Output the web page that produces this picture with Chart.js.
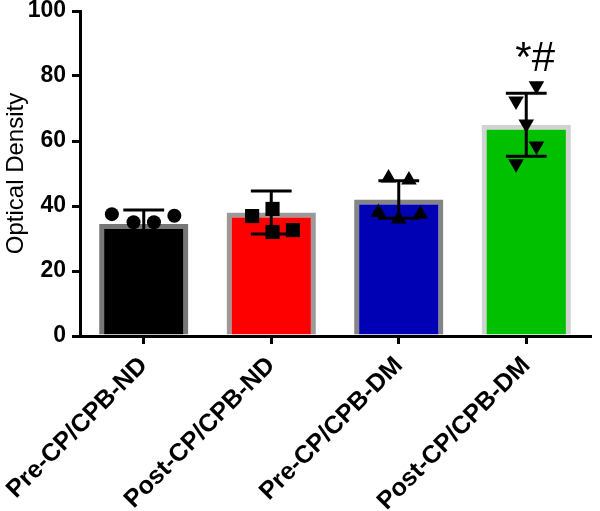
<!DOCTYPE html>
<html>
<head>
<meta charset="utf-8">
<script src="https://cdn.jsdelivr.net/npm/chart.js@4"></script>
<style>
  html, body { margin: 0; padding: 0; background: #fff; }
  #wrap { width: 600px; height: 511px; }
</style>
</head>
<body>
<div id="wrap"><canvas id="odChart"></canvas></div>
<script>
// groups on the x axis
var categories = ['Pre-CP/CPB-ND', 'Post-CP/CPB-ND', 'Pre-CP/CPB-DM', 'Post-CP/CPB-DM'];
// bar heights (mean) and error bars (SD)
var means = [34.5, 38, 42, 65];
var sds = [4.3, 6.6, 5.8, 9.7];
var yTicks = [0, 20, 40, 60, 80, 100];

// individual samples; jitter is the horizontal spread inside a bar, in category units
var preNdValues = [37.5, 35, 35, 37, 29.5];
var preNdJitter = [-0.25, -0.08, 0.08, 0.24, 0];
var postNdValues = [36.9, 39.1, 32, 32.6];
var postNdJitter = [-0.15, 0.01, 0.01, 0.17];
var preDmValues = [48.6, 48, 38, 36, 37.5];
var preDmJitter = [-0.08, 0.08, -0.16, 0, 0.17];
var postDmValues = [77, 72.3, 65.2, 58.5, 53];
var postDmJitter = [0.08, -0.08, 0, 0.08, -0.08];

var barColors = ['#000000', '#ff0000', '#0000b4', '#00c000'];
var barBorders = ['#777777', '#9a9a9a', '#858585', '#d2d2d2'];

var FONT = "Arial, 'Liberation Sans', sans-serif";

function toPoints(groupIndex, values, jitter) {
  var pts = [];
  for (var i = 0; i < values.length; i++) {
    pts.push({ x: groupIndex + jitter[i], y: values[i] });
  }
  return pts;
}

function scatterSet(points, style, radius, rotation) {
  return {
    type: 'scatter',
    xAxisID: 'xs',
    data: points,
    pointStyle: style,
    pointRadius: radius,
    pointHoverRadius: radius,
    rotation: rotation || 0,
    backgroundColor: '#000',
    borderColor: '#000',
    borderWidth: 0
  };
}

// error bars + significance mark
var errorBarPlugin = {
  id: 'errorBars',
  afterDatasetsDraw: function(chart) {
    var ctx = chart.ctx;
    var xs = chart.scales.xs;
    var y = chart.scales.y;
    ctx.save();
    ctx.strokeStyle = '#000';
    ctx.lineWidth = 3;
    for (var i = 0; i < means.length; i++) {
      var cx = xs.getPixelForValue(i);
      var half = (xs.getPixelForValue(i + 0.16) - cx);
      var top = y.getPixelForValue(means[i] + sds[i]);
      var bot = y.getPixelForValue(means[i] - sds[i]);
      ctx.beginPath();
      ctx.moveTo(cx, top);
      ctx.lineTo(cx, bot);
      ctx.moveTo(cx - half, top);
      ctx.lineTo(cx + half, top);
      ctx.moveTo(cx - half, bot);
      ctx.lineTo(cx + half, bot);
      ctx.stroke();
    }
    ctx.fillStyle = '#000';
    ctx.font = '42px ' + FONT;
    ctx.textAlign = 'center';
    ctx.textBaseline = 'alphabetic';
    ctx.fillText('*#', xs.getPixelForValue(3.07), y.getPixelForValue(81.5));
    ctx.restore();
  }
};

var ctx = document.getElementById('odChart').getContext('2d');
var chart = new Chart(ctx, {
  type: 'bar',
  data: {
    labels: categories,
    datasets: [
      {
        type: 'bar',
        data: means,
        backgroundColor: barColors,
        borderColor: barBorders,
        borderWidth: 5,
        borderSkipped: 'start',
        grouped: false,
        categoryPercentage: 1,
        barPercentage: 0.7,
        order: 2
      },
      scatterSet(toPoints(0, preNdValues, preNdJitter), 'circle', 7),
      scatterSet(toPoints(1, postNdValues, postNdJitter), 'rect', 10),
      scatterSet(toPoints(2, preDmValues, preDmJitter), 'triangle', 9),
      scatterSet(toPoints(3, postDmValues, postDmJitter), 'triangle', 9, 180)
    ]
  },
  options: {
    responsive: true,
    maintainAspectRatio: false,
    animation: false,
    events: [],
    layout: { padding: { top: 11, right: 3, bottom: 0, left: 0 } },
    plugins: {
      legend: { display: false },
      tooltip: { enabled: false }
    },
    scales: {
      x: {
        type: 'category',
        offset: true,
        border: { color: '#000', width: 3 },
        grid: { offset: false, drawOnChartArea: false, drawTicks: true, tickLength: 8, color: '#000', lineWidth: 3 },
        ticks: {
          color: '#000',
          font: { family: FONT, size: 25, weight: 'bold' },
          maxRotation: 45,
          minRotation: 45,
          padding: 7
        },
        afterFit: function(scale) {
          // rotated labels may hang past the left edge of the plot, as in the original
          scale.height = 175;
          scale.paddingLeft = 0;
          scale.paddingRight = 0;
        }
      },
      xs: {
        type: 'linear',
        display: false,
        offset: false,
        min: -0.5,
        max: 3.5
      },
      y: {
        min: 0,
        max: 100,
        afterBuildTicks: function(axis) {
          axis.ticks = yTicks.map(function(v) { return { value: v }; });
        },
        border: { color: '#000', width: 3 },
        grid: { drawOnChartArea: false, drawTicks: true, tickLength: 8, color: '#000', lineWidth: 3 },
        ticks: {
          color: '#000',
          font: { family: FONT, size: 23, weight: 'bold' },
          padding: 6
        },
        title: {
          display: true,
          text: 'Optical Density',
          color: '#000',
          font: { family: FONT, size: 24 },
          padding: { top: 2, bottom: 0 }
        },
        afterFit: function(scale) {
          scale.width = 80;
          scale.paddingTop = 0;
          scale.paddingBottom = 0;
        }
      }
    }
  },
  plugins: [errorBarPlugin]
});
</script>
</body>
</html>
